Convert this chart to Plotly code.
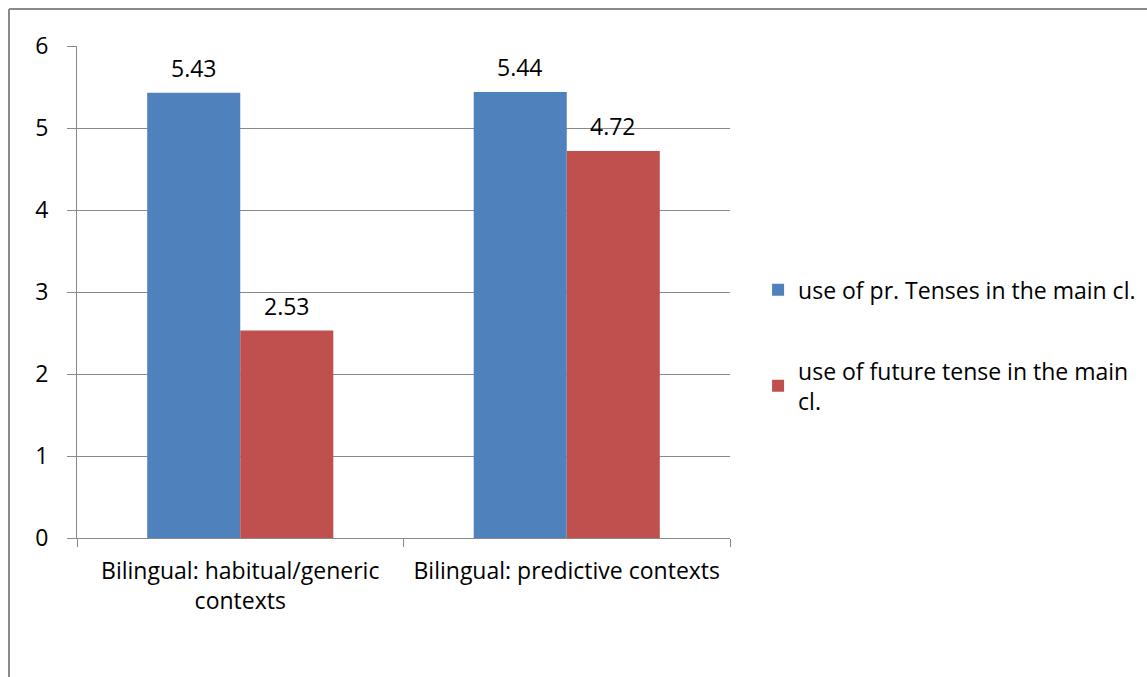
import plotly.graph_objects as go

categories = ["Bilingual: habitual/generic<br>contexts", "Bilingual: predictive contexts"]
series_names = ["use of pr. Tenses in the main cl.", "use of future tense in the main<br>cl."]
present_values = [5.43, 5.44]
future_values = [2.53, 4.72]
y_ticks = [0, 1, 2, 3, 4, 5, 6]

FONT = "Open Sans"
FSIZE = 23
GRID = "#898989"
COLORS = ["#4F81BD", "#C0504D"]

fig = go.Figure()
for name, vals, col, grp in [(series_names[0], present_values, COLORS[0], "a"),
                             (series_names[1], future_values, COLORS[1], "b")]:
    fig.add_trace(go.Bar(
        x=categories, y=vals, name=name,
        marker=dict(color=col, line=dict(width=0)),
        legendgroup=grp,
    ))

# value labels above each bar (bars within a group are offset by half a bar width)
bar_half_px = 46.5
for vals, sign in [(present_values, -1), (future_values, 1)]:
    for cat, v in zip(categories, vals):
        fig.add_annotation(
            x=cat, y=v, xref="x", yref="y", text=f"{v:.2f}",
            showarrow=False, xshift=sign * bar_half_px, yshift=25,
            yanchor="middle", xanchor="center",
            font=dict(family=FONT, size=FSIZE, color="#000000"),
        )

fig.update_layout(
    width=1147, height=677,
    margin=dict(l=77, r=417, t=46, b=139, autoexpand=False),
    paper_bgcolor="white", plot_bgcolor="white",
    font=dict(family=FONT, size=FSIZE, color="#000000"),
    barmode="group", bargap=0.43, bargroupgap=0,
    showlegend=True,
    legend=dict(
        x=1.043, xanchor="left", y=0.548, yanchor="top",
        font=dict(family=FONT, size=FSIZE, color="#000000"),
        tracegroupgap=48, itemwidth=30,
        bgcolor="rgba(0,0,0,0)",
    ),
)

fig.update_yaxes(
    range=[0, 6], tickvals=y_ticks, ticktext=[str(t) for t in y_ticks],
    showgrid=True, gridcolor=GRID, gridwidth=1,
    showline=True, linecolor=GRID, linewidth=1,
    ticks="outside", ticklen=9, tickcolor=GRID,
    zeroline=False, ticklabelstandoff=14,
    tickfont=dict(family=FONT, size=FSIZE),
)
fig.update_xaxes(
    showline=True, linecolor=GRID, linewidth=1,
    ticks="outside", ticklen=8, tickcolor=GRID, tickson="boundaries",
    showgrid=False, ticklabelstandoff=12,
    tickfont=dict(family=FONT, size=FSIZE),
)

# outer chart frame (left and top edges)
fig.add_shape(type="line", xref="paper", yref="paper",
              x0=(9 - 77) / 653, x1=(1160 - 77) / 653,
              y0=(538 - 9) / 492, y1=(538 - 9) / 492,
              line=dict(color="#8a8a8a", width=2))
fig.add_shape(type="line", xref="paper", yref="paper",
              x0=(9 - 77) / 653, x1=(9 - 77) / 653,
              y0=(538 - 9) / 492, y1=(538 - 700) / 492,
              line=dict(color="#8a8a8a", width=2))

fig.write_html("out.html")
